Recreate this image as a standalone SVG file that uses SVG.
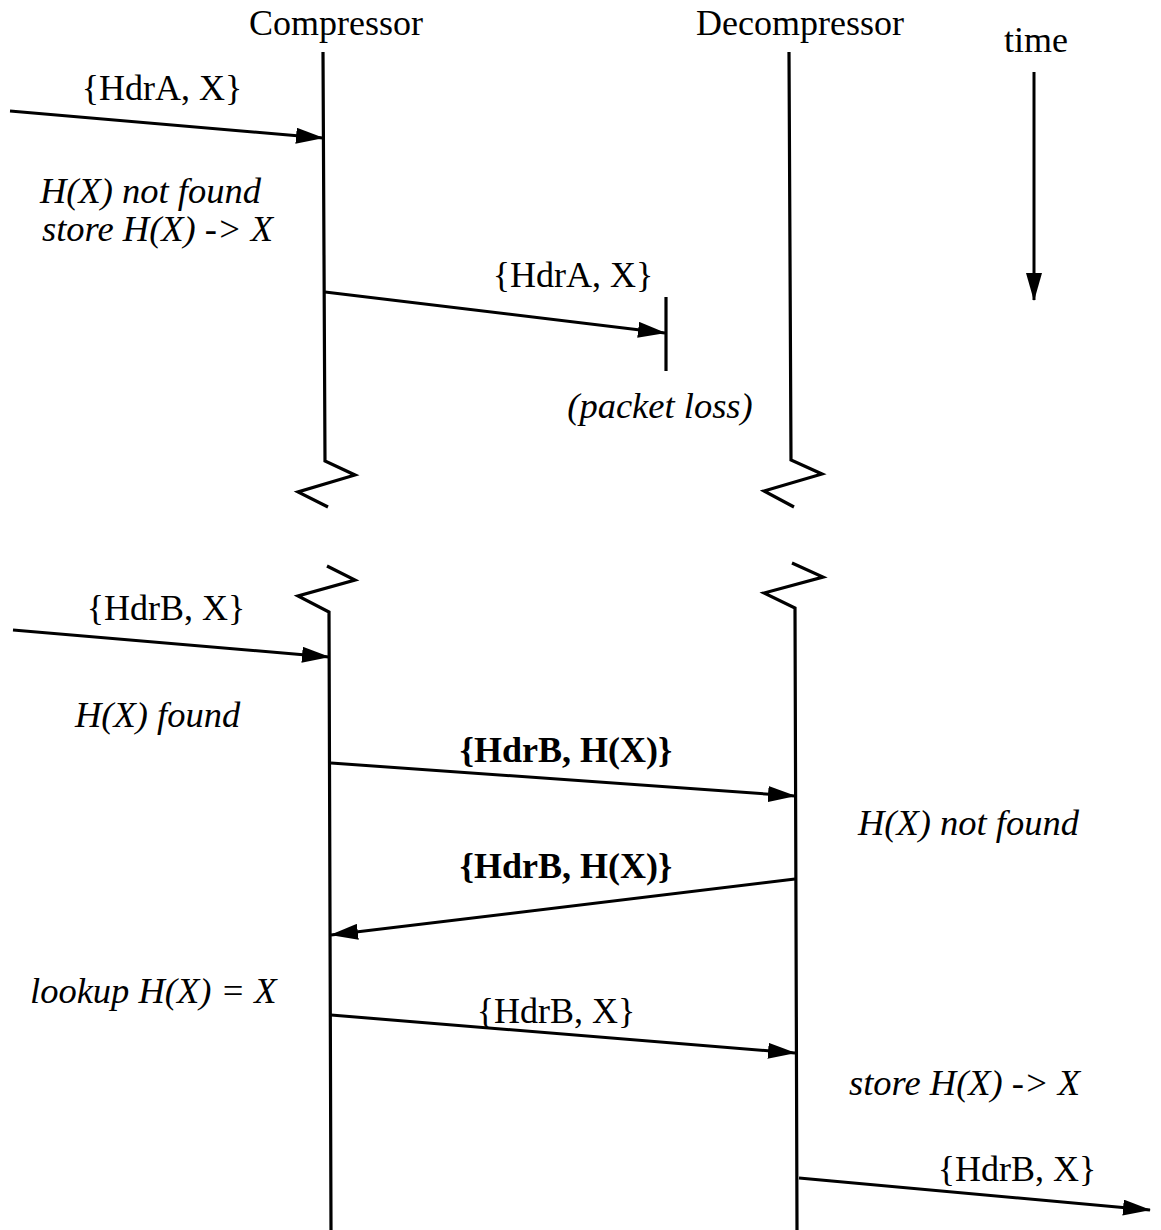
<svg xmlns="http://www.w3.org/2000/svg" width="1161" height="1230" viewBox="0 0 1161 1230">
<style>
text{font-family:"Liberation Serif","Times New Roman",serif;font-size:36px;fill:#000}
.i{font-style:italic;font-size:36.5px}
.b{font-weight:bold}
.m{text-anchor:middle}
.ln{stroke:#000;stroke-width:3.2;fill:none}
.ar{stroke:#000;stroke-width:3;fill:none;marker-end:url(#ah)}
</style>
<defs>
<marker id="ah" markerWidth="28" markerHeight="16" refX="27" refY="8" orient="auto" markerUnits="userSpaceOnUse">
<path d="M0,0 L28,8 L0,16 Z" fill="#000"/>
</marker>
</defs>
<rect width="1161" height="1230" fill="#fff"/>
<g id="compressor">
<text class="m" x="336" y="35">Compressor</text>
<polyline class="ln" points="323,52 325,461 355,475 298,492 328,507"/>
<polyline class="ln" points="327,566 355,580 298,596 329,612 331,1230"/>
</g>
<g id="decompressor">
<text class="m" x="800" y="35">Decompressor</text>
<polyline class="ln" points="789,52 791,460 822,474 764,491 794,507"/>
<polyline class="ln" points="792,563 823,577 764,593 795,608 797,1230"/>
</g>
<g id="time">
<text class="m" x="1036" y="52">time</text>
<line class="ar" x1="1034" y1="72" x2="1034" y2="300"/>
</g>
<g id="packet-loss">
<line class="ln" x1="666" y1="297" x2="666" y2="371"/>
<text class="m i" x="660" y="418">(packet loss)</text>
</g>
<g id="labels">
<text class="m" x="162" y="100">{HdrA, X}</text>
<text class="i" x="40" y="203">H(X) not found</text>
<text class="i" x="42" y="241">store H(X) -&gt; X</text>
<text class="m" x="573" y="287">{HdrA, X}</text>
<text class="m" x="166" y="620">{HdrB, X}</text>
<text class="i" x="75" y="727">H(X) found</text>
<text class="m b" x="566" y="762">{HdrB, H(X)}</text>
<text class="i" x="858" y="835">H(X) not found</text>
<text class="m b" x="566" y="878">{HdrB, H(X)}</text>
<text class="i" x="30" y="1003">lookup H(X) = X</text>
<text class="m" x="556" y="1023">{HdrB, X}</text>
<text class="i" x="849" y="1095">store H(X) -&gt; X</text>
<text class="m" x="1017" y="1181">{HdrB, X}</text>
</g>
<g id="connectors">
<line class="ar" x1="10" y1="111" x2="323" y2="138"/>
<line class="ar" x1="325" y1="292" x2="665" y2="333"/>
<line class="ar" x1="13" y1="630" x2="329" y2="657"/>
<line class="ar" x1="331" y1="763" x2="795" y2="796"/>
<line class="ar" x1="795" y1="879" x2="331" y2="935"/>
<line class="ar" x1="331" y1="1015" x2="795" y2="1053"/>
<line class="ar" x1="799" y1="1178" x2="1150" y2="1210"/>
</g>
</svg>
